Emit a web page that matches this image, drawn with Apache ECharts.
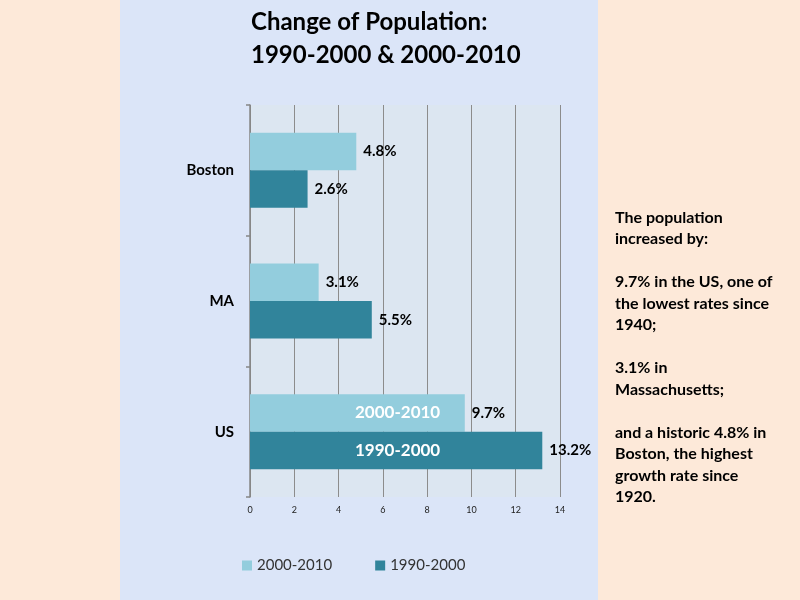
<!DOCTYPE html>
<html>
<head>
<meta charset="utf-8">
<script src="https://cdn.jsdelivr.net/npm/echarts@6/dist/echarts.min.js"></script>
<style>
html,body{margin:0;padding:0;}
#c{width:800px;height:600px;background:linear-gradient(to right,#FDE9D9 0,#FDE9D9 120px,#DBE5F8 120px,#DBE5F8 598px,#FDE9D9 598px,#FDE9D9 800px);}
</style>
</head>
<body>
<div id="c"></div>
<script>
var categories = ['US', 'MA', 'Boston'];
var seriesNames = ['2000-2010', '1990-2000'];
var values2000 = [9.7, 3.1, 4.8];
var values1990 = [13.2, 5.5, 2.6];
var xTicks = [0, 2, 4, 6, 8, 10, 12, 14];
var titleText = 'Change of Population:\n1990-2000 & 2000-2010';
var noteLines = ['The population', 'increased by:', '', '9.7% in the US, one of', 'the lowest rates since', '1940;', '', '3.1% in', 'Massachusetts;', '', 'and a historic 4.8% in', 'Boston, the highest', 'growth rate since', '1920.'];

var FONT = 'Lato';
var chart = echarts.init(document.getElementById('c'), null, {renderer: 'canvas'});

function innerData(vals) {
  return vals.map(function (v, i) {
    return i === 0 ? {value: v, label: {show: true}} : {value: v, label: {show: false}};
  });
}

var pctLabel = {
  show: true, position: 'right', distance: 7,
  formatter: '{c}%', color: '#000', fontFamily: FONT, fontWeight: 'bold', fontSize: 15
};
var innerLabel = {
  show: false, position: 'insideLeft', distance: 105,
  color: '#fff', fontFamily: FONT, fontWeight: 'bold', fontSize: 17
};
var barLayout = {barGap: '0%', barCategoryGap: '42.6%'};

var option = {
  animation: false,
  textStyle: {fontFamily: FONT},
  title: [
    {
      text: titleText, left: 246, top: 1,
      textStyle: {fontFamily: FONT, fontWeight: 'bold', fontSize: 24, color: '#000', lineHeight: 33}
    },
    {
      text: noteLines.join('\n'), left: 610, top: 202,
      textStyle: {fontFamily: FONT, fontWeight: 'bold', fontSize: 16, color: '#000', lineHeight: 21.5}
    }
  ],
  legend: {
    data: [seriesNames[0], seriesNames[1]],
    left: 237, top: 553,
    itemWidth: 10, itemHeight: 10, itemGap: 43,
    icon: 'rect',
    textStyle: {fontFamily: FONT, fontSize: 15, color: '#333'}
  },
  grid: {
    left: 250, right: 240, top: 105, bottom: 103,
    show: true, backgroundColor: '#DCE6F1', borderWidth: 0
  },
  xAxis: {
    type: 'value', min: xTicks[0], max: xTicks[xTicks.length - 1], interval: 2,
    axisLine: {show: false}, axisTick: {show: false},
    splitLine: {show: true, lineStyle: {color: '#8C8C8C', width: 1}},
    axisLabel: {fontSize: 9, color: '#222', margin: 9, fontFamily: FONT}
  },
  yAxis: [
    {
      type: 'category', data: categories,
      axisLine: {show: true, lineStyle: {color: '#868686', width: 1.5}},
      axisTick: {show: true, length: 4, lineStyle: {color: '#868686', width: 1.5}},
      axisLabel: {fontFamily: FONT, fontSize: 15, fontWeight: 'bold', color: '#000', margin: 16}
    },
    {
      type: 'category', data: categories, position: 'left',
      axisLine: {show: false}, axisTick: {show: false}, axisLabel: {show: false}
    }
  ],
  series: [
    Object.assign({
      name: seriesNames[0], type: 'bar', yAxisIndex: 0, data: values2000,
      itemStyle: {color: '#93CDDD'}, label: pctLabel
    }, barLayout),
    Object.assign({
      name: seriesNames[1], type: 'bar', yAxisIndex: 0, data: values1990,
      itemStyle: {color: '#31849B'}, label: pctLabel
    }, barLayout),
    Object.assign({
      name: seriesNames[0] + ' ', type: 'bar', yAxisIndex: 1, data: innerData(values2000), silent: true,
      itemStyle: {color: 'rgba(0,0,0,0)'},
      label: Object.assign({}, innerLabel, {formatter: seriesNames[0]})
    }, barLayout),
    Object.assign({
      name: seriesNames[1] + ' ', type: 'bar', yAxisIndex: 1, data: innerData(values1990), silent: true,
      itemStyle: {color: 'rgba(0,0,0,0)'},
      label: Object.assign({}, innerLabel, {formatter: seriesNames[1]})
    }, barLayout)
  ]
};
chart.setOption(option);
</script>
</body>
</html>
